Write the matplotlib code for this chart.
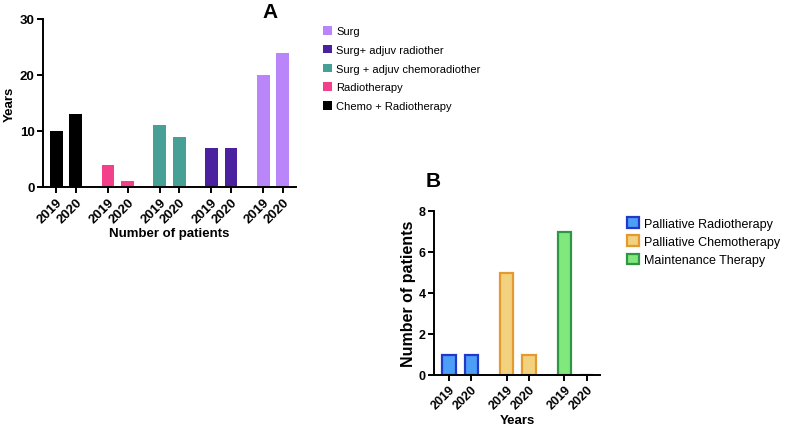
import numpy as np
import matplotlib.pyplot as plt

# Panel A data
a_groups = ["Chemo + Radiotherapy", "Radiotherapy", "Surg + adjuv chemoradiother",
            "Surg+ adjuv radiother", "Surg"]
a_2019 = [10, 4, 11, 7, 20]
a_2020 = [13, 1, 9, 7, 24]
a_colors = ["#000000", "#f2408a", "#46a096", "#4c21a0", "#b985f8"]

# Panel B data
b_groups = ["Palliative Radiotherapy", "Palliative Chemotherapy", "Maintenance Therapy"]
b_2019 = [1, 5, 7]
b_2020 = [1, 1, 0]
b_face = ["#4c9ef7", "#f2d27e", "#80e87c"]
b_edge = ["#2238c8", "#e39a2e", "#2e9645"]

years = ["2019", "2020"]

plt.rcParams["font.family"] = "Liberation Sans"

fig = plt.figure(figsize=(7.87, 4.35), dpi=100)

def style_axes(ax, size):
    ax.spines["top"].set_visible(False)
    ax.spines["right"].set_visible(False)
    for s in ["left", "bottom"]:
        ax.spines[s].set_linewidth(1.4)
    ax.tick_params(width=1.4, length=4, labelsize=size, pad=2)
    for lab in ax.get_xticklabels() + ax.get_yticklabels():
        lab.set_fontweight("bold")

# ---- Panel A ----
axA = fig.add_axes([43 / 787, 247 / 435, 253 / 787, 168 / 435])
gap_a = 2.65
xs, labels = [], []
for i, (g, v1, v2, c) in enumerate(zip(a_groups, a_2019, a_2020, a_colors)):
    x0 = i * gap_a
    axA.bar([x0, x0 + 1], [v1, v2], width=0.66, color=c, label=g)
    xs += [x0, x0 + 1]
    labels += years
axA.set_xticks(xs)
axA.set_xticklabels(labels, rotation=45, ha="right", rotation_mode="anchor")
axA.set_xlim(xs[0] - 0.68, xs[-1] + 0.68)
axA.set_ylim(0, 30)
axA.set_yticks([0, 10, 20, 30])
axA.set_ylabel("Years", fontweight="bold", fontsize=9.5, labelpad=3)
axA.set_xlabel("Number of patients", fontweight="bold", fontsize=9.5, labelpad=2)
style_axes(axA, 9.5)
fig.text(270 / 787, 1 - 12 / 435, "A", fontsize=15, fontweight="bold", va="center", ha="center")

h, l = axA.get_legend_handles_labels()
fig.legend(h[::-1], l[::-1], loc="upper left", bbox_to_anchor=(313 / 787, 1 - 17 / 435),
           frameon=False, fontsize=8, handlelength=0.8, handleheight=0.8,
           handletextpad=0.4, labelspacing=0.78)

# ---- Panel B ----
axB = fig.add_axes([434 / 787, 59 / 435, 166 / 787, 164 / 435])
gap_b = 2.6
xs, labels = [], []
for i, (g, v1, v2, fc, ec) in enumerate(zip(b_groups, b_2019, b_2020, b_face, b_edge)):
    x0 = i * gap_b
    axB.bar([x0, x0 + 1], [v1, v2], width=0.6, color=fc, edgecolor=ec, linewidth=1.6, label=g)
    xs += [x0, x0 + 1]
    labels += years
axB.set_xticks(xs)
axB.set_xticklabels(labels, rotation=45, ha="right", rotation_mode="anchor")
axB.set_xlim(xs[0] - 0.68, xs[-1] + 0.6)
axB.set_ylim(0, 8)
axB.set_yticks([0, 2, 4, 6, 8])
axB.set_ylabel("Number of patients", fontweight="bold", fontsize=11.5, labelpad=2)
axB.set_xlabel("Years", fontweight="bold", fontsize=9.5, labelpad=2)
style_axes(axB, 9)
fig.text(433 / 787, 1 - 182 / 435, "B", fontsize=15, fontweight="bold", va="center", ha="center")

h, l = axB.get_legend_handles_labels()
fig.legend(h, l, loc="upper left", bbox_to_anchor=(616 / 787, 1 - 207 / 435),
           frameon=False, fontsize=9, handlelength=0.9, handleheight=0.9,
           handletextpad=0.4, labelspacing=0.45)

fig.savefig("out.png", dpi=100)
